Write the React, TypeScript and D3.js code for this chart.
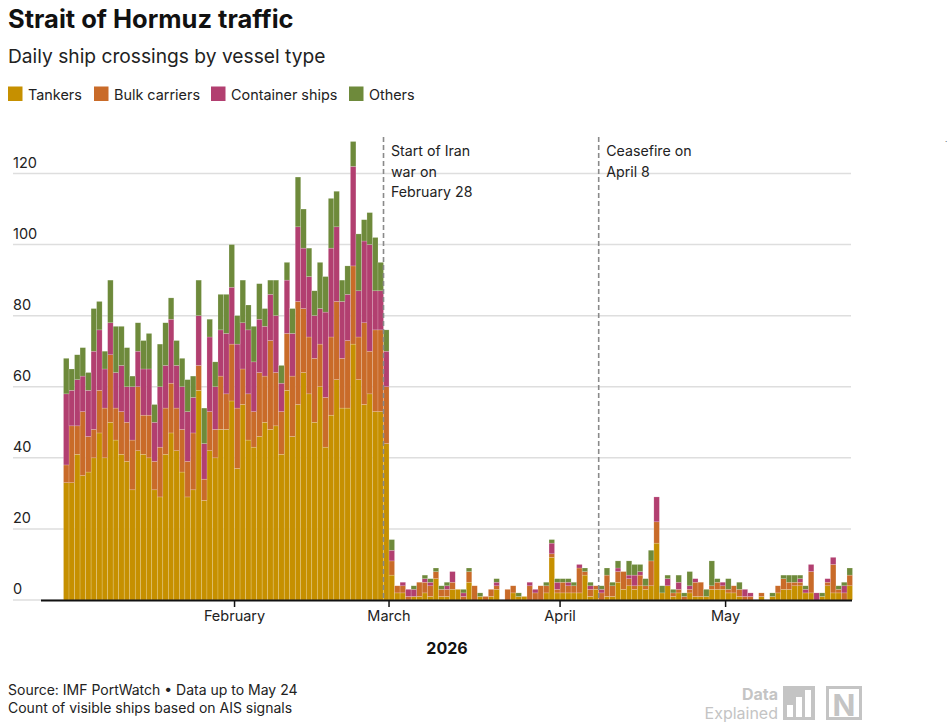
import React, { useEffect, useRef } from 'react';
import * as d3 from 'd3';

// daily counts, Jan 1 – May 23 2026
const START_DATE = '2026-01-01';
const END_DATE = '2026-05-24';

const tankers = [
  33, 33, 41, 35, 36, 40, 47, 40, 50, 45, 41, 39, 31, 42, 41, 40, 31, 29, 41, 47, 42, 36, 29, 31, 59, 28, 42, 40, 48, 48, 56,
  37, 55, 45, 43, 46, 50, 48, 49, 41, 59, 46, 55, 64, 58, 50, 60, 43, 52, 62, 54, 54, 72, 62, 55, 58, 53, 53, 44,
  7, 2, 2, 0, 1, 1, 2, 1, 6, 1, 1, 3, 3, 0, 5, 0, 1, 0, 1, 3, 0, 0, 2, 1, 1, 0, 0, 0, 2, 12, 2,
  2, 2, 2, 2, 7, 1, 3, 0, 1, 1, 5, 3, 4, 3, 4, 3, 4, 16, 2, 4, 1, 2, 0, 2, 1, 1, 1, 3, 3, 3,
  2, 2, 1, 0, 0, 0, 1, 0, 1, 2, 3, 3, 4, 4, 2, 2, 0, 1, 4, 2, 2, 0, 4,
];
const bulkCarriers = [
  5, 16, 8, 18, 10, 8, 12, 14, 19, 9, 12, 11, 14, 18, 11, 12, 8, 14, 13, 14, 12, 12, 10, 16, 7, 6, 11, 8, 15, 10, 16,
  17, 10, 13, 10, 18, 13, 25, 15, 12, 16, 17, 29, 18, 16, 18, 12, 14, 22, 22, 14, 19, 22, 12, 23, 12, 23, 23, 16,
  4, 2, 2, 1, 0, 4, 3, 3, 2, 2, 2, 2, 0, 1, 3, 4, 0, 1, 2, 1, 0, 3, 2, 0, 0, 4, 2, 4, 2, 1, 1,
  3, 2, 2, 7, 1, 2, 1, 2, 6, 3, 3, 5, 2, 1, 3, 1, 7, 6, 0, 0, 1, 1, 1, 1, 4, 4, 0, 1, 2, 1,
  1, 2, 2, 1, 1, 0, 1, 0, 0, 2, 3, 2, 1, 1, 0, 6, 0, 0, 1, 8, 1, 2, 3,
];
const containerShips = [
  20, 10, 13, 10, 13, 22, 17, 11, 9, 10, 13, 10, 15, 10, 13, 13, 11, 17, 12, 18, 12, 12, 14, 10, 14, 10, 21, 12, 13, 17, 16,
  18, 13, 18, 14, 15, 14, 13, 16, 8, 15, 12, 21, 17, 17, 12, 10, 24, 25, 21, 16, 13, 28, 13, 23, 30, 11, 11, 10,
  3, 0, 1, 2, 2, 0, 1, 1, 0, 0, 1, 3, 0, 1, 0, 0, 0, 0, 0, 1, 0, 0, 0, 0, 0, 1, 1, 0, 0, 3, 2,
  0, 1, 0, 1, 0, 1, 0, 1, 0, 0, 1, 0, 1, 3, 1, 0, 0, 7, 0, 2, 0, 2, 0, 1, 1, 0, 0, 0, 0, 1,
  0, 0, 0, 2, 1, 0, 0, 0, 0, 0, 0, 0, 0, 1, 1, 2, 2, 0, 1, 2, 0, 2, 0,
];
const others = [
  10, 6, 7, 8, 5, 12, 8, 5, 12, 13, 11, 11, 3, 8, 8, 10, 5, 12, 12, 6, 7, 8, 9, 6, 10, 10, 5, 7, 10, 11, 12,
  8, 12, 7, 10, 10, 5, 4, 10, 5, 5, 7, 14, 11, 8, 7, 13, 10, 14, 10, 6, 8, 7, 16, 6, 9, 15, 8, 6,
  3, 0, 0, 0, 1, 0, 1, 1, 1, 1, 1, 0, 0, 1, 1, 0, 1, 0, 0, 1, 0, 0, 0, 1, 0, 0, 0, 0, 1, 1, 1,
  1, 1, 1, 0, 1, 1, 0, 1, 2, 1, 2, 0, 4, 3, 2, 2, 3, 0, 2, 1, 1, 2, 1, 4, 0, 0, 2, 7, 1, 0,
  3, 0, 2, 0, 0, 0, 0, 0, 1, 0, 1, 2, 2, 1, 1, 0, 0, 1, 0, 0, 1, 1, 2,
];

const seriesNames = ['Tankers', 'Bulk carriers', 'Container ships', 'Others'];
const seriesColors = ['#C69000', '#C96B29', '#B23F70', '#6E8A3B'];
const yTicks = [0, 20, 40, 60, 80, 100, 120];
const monthTicks = ['2026-02-01', '2026-03-01', '2026-04-01', '2026-05-01'];
const monthLabels = ['February', 'March', 'April', 'May'];
const events = [
  { date: '2026-02-28', lines: ['Start of Iran', 'war on', 'February 28'] },
  { date: '2026-04-08', lines: ['Ceasefire on', 'April 8'] },
];

const W = 949;
const H = 726;
const FONT = 'Inter, "Noto Sans", sans-serif';

const App: React.FC = () => {
  const svgRef = useRef<SVGGElement>(null);

  useEffect(() => {
    if (!svgRef.current) return;
    const svg = d3.select(svgRef.current);
    svg.selectAll('*').remove();

    const start = new Date(START_DATE + 'T00:00:00Z');
    const rows = tankers.map((t, i) => ({
      date: d3.utcDay.offset(start, i),
      t,
      b: bulkCarriers[i],
      c: containerShips[i],
      o: others[i],
    }));

    const x = d3.scaleUtc()
      .domain([start, new Date(END_DATE + 'T00:00:00Z')])
      .range([63.5, 852.5]);
    const y = d3.scaleLinear().domain([0, 120]).range([600, 173.5]);

    const stack = d3.stack<any>().keys(['t', 'b', 'c', 'o']);
    const layers = stack(rows);

    // gridlines + y labels
    const grid = svg.append('g');
    grid.selectAll('line')
      .data(yTicks)
      .join('line')
      .attr('x1', 13)
      .attr('x2', 851)
      .attr('y1', d => y(d))
      .attr('y2', d => y(d))
      .attr('stroke', '#dedede')
      .attr('stroke-width', 1.5);
    grid.selectAll('text')
      .data(yTicks)
      .join('text')
      .attr('x', 13)
      .attr('y', d => y(d) - 6)
      .attr('font-size', 14.5)
      .attr('fill', '#222')
      .text(d => d);

    // bars
    const barW = x(d3.utcDay.offset(start, 1)) - x(start);
    svg.append('g')
      .selectAll('g')
      .data(layers)
      .join('g')
      .attr('fill', (d, i) => seriesColors[i])
      .selectAll('rect')
      .data(d => d.filter(p => p[1] - p[0] > 0))
      .join('rect')
      .attr('x', d => x(d.data.date))
      .attr('width', barW)
      .attr('y', d => y(d[1]))
      .attr('height', d => y(d[0]) - y(d[1]))
      .attr('stroke', 'rgba(255,255,255,0.35)')
      .attr('stroke-width', 0.5);

    // baseline
    svg.append('line')
      .attr('x1', 41).attr('x2', 852)
      .attr('y1', 600.5).attr('y2', 600.5)
      .attr('stroke', '#111')
      .attr('stroke-width', 2);

    // month ticks
    const xa = svg.append('g');
    monthTicks.forEach((m, i) => {
      const px = x(new Date(m + 'T00:00:00Z'));
      xa.append('line')
        .attr('x1', px).attr('x2', px)
        .attr('y1', 601).attr('y2', 607)
        .attr('stroke', '#111')
        .attr('stroke-width', 1.5);
      xa.append('text')
        .attr('x', px)
        .attr('y', 621)
        .attr('text-anchor', 'middle')
        .attr('font-size', 14.5)
        .attr('fill', '#222')
        .text(monthLabels[i]);
    });
    xa.append('text')
      .attr('x', 447)
      .attr('y', 654)
      .attr('text-anchor', 'middle')
      .attr('font-size', 16)
      .attr('font-weight', 700)
      .attr('fill', '#111')
      .text('2026');

    // event annotations
    events.forEach(ev => {
      const px = x(new Date(ev.date + 'T00:00:00Z'));
      svg.append('line')
        .attr('x1', px).attr('x2', px)
        .attr('y1', 137).attr('y2', 600)
        .attr('stroke', '#8a8a8a')
        .attr('stroke-width', 1.6)
        .attr('stroke-dasharray', '5,3');
      const t = svg.append('text')
        .attr('x', px + 7.5)
        .attr('y', 156)
        .attr('font-size', 14.2)
        .attr('fill', '#222');
      ev.lines.forEach((l, i) => {
        t.append('tspan').attr('x', px + 7.5).attr('dy', i === 0 ? 0 : 20.5).text(l);
      });
    });
  }, []);

  let legendX = 8;
  const legendItems = seriesNames.map((name, i) => {
    const item = { name, color: seriesColors[i], x: legendX };
    legendX += [86, 117, 138, 0][i];
    return item;
  });

  return (
    <svg
      width={W}
      height={H}
      style={{ position: 'absolute', left: 0, top: 0, fontFamily: FONT, background: '#fff' }}
    >
      <text x={8} y={28} fontSize={25.5} fontWeight={700} fill="#111">Strait of Hormuz traffic</text>
      <text x={8} y={63} fontSize={19.2} fill="#222">Daily ship crossings by vessel type</text>
      {legendItems.map(it => (
        <g key={it.name}>
          <rect x={it.x} y={86.5} width={14.5} height={14.5} fill={it.color} />
          <text x={it.x + 20} y={99.5} fontSize={14.4} fill="#222">{it.name}</text>
        </g>
      ))}
      <g ref={svgRef} />
      <text x={945} y={142} fontSize={8} fill="#555">.</text>
      <text x={8} y={695} fontSize={14} fill="#222">Source: IMF PortWatch • Data up to May 24</text>
      <text x={8} y={713} fontSize={14} fill="#222">Count of visible ships based on AIS signals</text>
      {/* logo */}
      <g fill="#c4c4c4">
        <text x={778} y={700} fontSize={16} fontWeight={700} textAnchor="end">Data</text>
        <text x={778} y={719} fontSize={16} textAnchor="end">Explained</text>
        <rect x={783} y={686} width={32} height={34} />
        <rect x={787} y={705} width={6} height={12} fill="#fff" />
        <rect x={796} y={697} width={6} height={20} fill="#fff" />
        <rect x={805} y={690} width={6} height={27} fill="#fff" />
        <rect x={826} y={686} width={36} height={34} />
        <rect x={829} y={689} width={30} height={28} fill="#fff" />
        <text x={844} y={716} fontSize={30} fontWeight={700} textAnchor="middle">N</text>
      </g>
    </svg>
  );
};

export default App;
